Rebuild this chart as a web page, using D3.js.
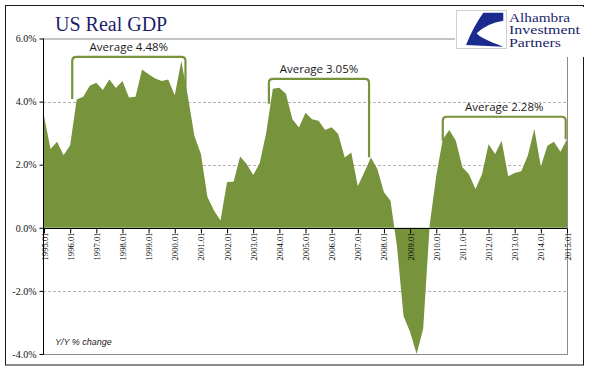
<!DOCTYPE html>
<html>
<head>
<meta charset="utf-8">
<script src="https://cdn.jsdelivr.net/npm/d3@7"></script>
<style>
  body { margin: 0; background: #fff; }
  svg { display: block; }
</style>
</head>
<body>
<div id="chart"></div>
<script>
// Y/Y % change in US real GDP, quarterly, 1995.01 - 2015.01
let gdpYoY = [
    3.55, 2.50, 2.73, 2.30,
    2.62, 4.07, 4.15, 4.50,
    4.60, 4.37, 4.70, 4.43,
    4.65, 4.13, 4.15, 5.02,
    4.87, 4.73, 4.65, 4.70,
    4.20, 5.29, 4.18, 2.92,
    2.34, 0.98, 0.55, 0.23,
    1.45, 1.46, 2.26, 2.02,
    1.67, 2.05, 3.02, 4.41,
    4.44, 4.25, 3.44, 3.18,
    3.65, 3.44, 3.39, 3.10,
    3.19, 2.97, 2.23, 2.39,
    1.32, 1.76, 2.23, 1.86,
    1.13, 0.86, -0.60, -2.80,
    -3.30, -4.00, -3.20, 0.10,
    1.65, 2.81, 3.10, 2.76,
    1.92, 1.70, 1.23, 1.70,
    2.65, 2.34, 2.76, 1.63,
    1.74, 1.79, 2.28, 3.13,
    1.94, 2.60, 2.73, 2.41,
    2.81
];

let yearTicks = [1995, 1996, 1997, 1998, 1999, 2000, 2001, 2002, 2003, 2004, 2005,
    2006, 2007, 2008, 2009, 2010, 2011, 2012, 2013, 2014, 2015];
let yearLabels = ["1995.01", "1996.01", "1997.01", "1998.01", "1999.01", "2000.01", "2001.01",
    "2002.01", "2003.01", "2004.01", "2005.01", "2006.01", "2007.01", "2008.01", "2009.01",
    "2010.01", "2011.01", "2012.01", "2013.01", "2014.01", "2015.01"];
let pctTicks = [-4, -2, 0, 2, 4, 6];

// average brackets
let avgLabels = ["Average 4.48%", "Average 3.05%", "Average 2.28%"];
let avgFrom = [1996.08, 2003.6, 2010.25];
let avgTo = [2000.41, 2007.43, 2014.95];
let avgTop = [5.42, 4.72, 3.52];
let avgLeftFoot = [4.08, 3.93, 2.76];
let avgRightFoot = [4.38, 2.24, 2.81];

let W = 590, H = 375;
let plot = {left: 43, right: 567, top: 38.5, bottom: 354};
let green = '#77933C';
let navy = '#1C1F6B';

let svg = d3.select('#chart').append('svg')
    .attr('width', W)
    .attr('height', H);

// outer frame
svg.append('rect')
    .attr('x', 5.5).attr('y', 5.5)
    .attr('width', 578).attr('height', 359.5)
    .attr('fill', 'none')
    .attr('stroke', '#1a1a1a');

let x = d3.scaleLinear().domain([1995, 2015]).range([plot.left + 1, plot.right]);
let y = d3.scaleLinear().domain([-4, 6]).range([plot.bottom, plot.top]);

let series = gdpYoY.map((v, i) => ({t: 1995 + i / 4, v: v}));

// plot border (gray)
svg.append('rect')
    .attr('x', plot.left + 0.5).attr('y', y(6) + 0.5)
    .attr('width', plot.right - plot.left).attr('height', y(-4) - y(6))
    .attr('fill', 'none')
    .attr('stroke', '#8c8c8c');

// dashed gridlines
svg.append('g')
    .selectAll('line')
    .data([-2, 2, 4])
    .enter().append('line')
    .attr('x1', plot.left).attr('x2', plot.right)
    .attr('y1', d => Math.round(y(d)) + 0.5)
    .attr('y2', d => Math.round(y(d)) + 0.5)
    .attr('stroke', '#b3b3b3')
    .attr('stroke-dasharray', '3,2');

// area
let area = d3.area()
    .x(d => x(d.t))
    .y0(y(0))
    .y1(d => y(d.v));

svg.append('path')
    .datum(series)
    .attr('d', area)
    .attr('fill', green);

// zero line with year ticks
let xAxis = d3.axisBottom(x)
    .tickValues(yearTicks)
    .tickSize(5)
    .tickFormat((d, i) => yearLabels[i]);

let gx = svg.append('g')
    .attr('transform', `translate(0, ${Math.round(y(0)) + 0.5})`)
    .call(xAxis);
gx.select('.domain')
    .attr('d', `M${plot.left},0H${plot.right}`)
    .attr('stroke', '#000');
gx.selectAll('.tick line').attr('stroke', '#000');
gx.selectAll('.tick text')
    .attr('transform', 'rotate(-90)')
    .attr('text-anchor', 'end')
    .attr('x', -4)
    .attr('y', 0)
    .attr('dy', '0.35em')
    .attr('fill', '#000')
    .style('font-family', '"Liberation Serif", serif')
    .style('font-size', '8.6px');

// y axis
let yAxis = d3.axisLeft(y)
    .tickValues(pctTicks)
    .tickSize(4)
    .tickFormat(d => d.toFixed(1) + '%');

let gy = svg.append('g')
    .attr('transform', `translate(${plot.left + 0.5}, 0)`)
    .call(yAxis);
gy.select('.domain').attr('stroke', '#000').attr('d', `M0,${y(6)}V${y(-4) + 0.5}`);
gy.selectAll('.tick line').attr('stroke', '#000');
gy.selectAll('.tick text')
    .attr('x', -7)
    .attr('fill', '#111')
    .style('font-family', '"Liberation Serif", serif')
    .style('font-size', '10px');

// average brackets
let r = 4;
avgLabels.forEach((label, i) => {
    let xl = x(avgFrom[i]), xr = x(avgTo[i]), yt = y(avgTop[i]);
    let path = d3.path();
    path.moveTo(xl, y(avgLeftFoot[i]));
    path.lineTo(xl, yt + r);
    path.quadraticCurveTo(xl, yt, xl + r, yt);
    path.lineTo(xr - r, yt);
    path.quadraticCurveTo(xr, yt, xr, yt + r);
    path.lineTo(xr, y(avgRightFoot[i]));

    svg.append('path')
        .attr('d', path.toString())
        .attr('fill', 'none')
        .attr('stroke', green)
        .attr('stroke-width', 2.2);

    svg.append('text')
        .attr('x', (xl + xr) / 2)
        .attr('y', yt - 5.5)
        .attr('text-anchor', 'middle')
        .attr('fill', '#1a1a1a')
        .style('font-family', '"Open Sans", sans-serif')
        .style('font-size', '11.5px')
        .text(label);
});

// title
svg.append('text')
    .attr('x', 55).attr('y', 31)
    .attr('fill', navy)
    .style('font-family', '"Liberation Serif", serif')
    .style('font-size', '20px')
    .text('US Real GDP');

// unit note
svg.append('text')
    .attr('x', 55).attr('y', 345)
    .attr('fill', '#222')
    .style('font-family', '"Liberation Sans", sans-serif')
    .style('font-size', '9px')
    .style('font-style', 'italic')
    .text('Y/Y % change');

// logo
let logo = svg.append('g');
logo.append('rect')
    .attr('x', 455).attr('y', 7)
    .attr('width', 135).attr('height', 50)
    .attr('fill', '#fff');
logo.append('rect')
    .attr('x', 456.5).attr('y', 10.5)
    .attr('width', 50).attr('height', 38)
    .attr('fill', '#fff')
    .attr('stroke', '#d0d0d0');
logo.append('path')
    .attr('d', 'M503.3,12.7 L483.3,12.7 Q473.3,26.7 466,45 L503.3,46.7 Q480,38.3 476.7,33.3 Q486.7,23.3 503.3,20.7 Z')
    .attr('fill', '#1B2A8E');
let logoLines = ['Alhambra', 'Investment', 'Partners'];
let logoWidths = [61, 71, 52];
logo.selectAll('.logo-text')
    .data(logoLines)
    .enter().append('text')
    .attr('class', 'logo-text')
    .attr('x', 509)
    .attr('y', (d, i) => 21.5 + i * 12.6)
    .attr('textLength', (d, i) => logoWidths[i])
    .attr('lengthAdjust', 'spacingAndGlyphs')
    .attr('fill', navy)
    .style('font-family', '"Liberation Serif", serif')
    .style('font-size', '11.8px')
    .text(d => d);
</script>
</body>
</html>
